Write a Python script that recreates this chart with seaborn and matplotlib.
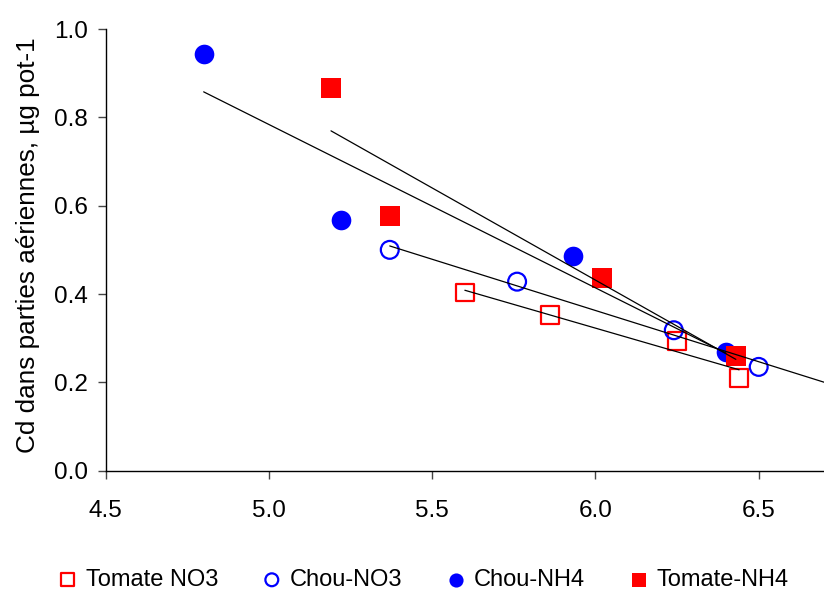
import numpy as np
import pandas as pd
import seaborn as sns
import matplotlib.pyplot as plt
from matplotlib.ticker import FormatStrFormatter

# values
series_names = ['Tomate NO3', 'Chou-NO3', 'Chou-NH4', 'Tomate-NH4']

tomate_no3_x = [5.60, 5.86, 6.25, 6.44]
tomate_no3_y = [0.403, 0.353, 0.293, 0.210]

chou_no3_x = [5.37, 5.76, 6.24, 6.50]
chou_no3_y = [0.500, 0.428, 0.318, 0.235]

chou_nh4_x = [4.80, 5.22, 5.93, 6.40]
chou_nh4_y = [0.943, 0.568, 0.487, 0.268]

tomate_nh4_x = [5.19, 5.37, 6.02, 6.43]
tomate_nh4_y = [0.866, 0.576, 0.437, 0.260]

x_ticks = [4.5, 5.0, 5.5, 6.0, 6.5]
y_ticks = [0.0, 0.2, 0.4, 0.6, 0.8, 1.0]

df = pd.DataFrame({
    'x': tomate_no3_x + chou_no3_x + chou_nh4_x + tomate_nh4_x,
    'y': tomate_no3_y + chou_no3_y + chou_nh4_y + tomate_nh4_y,
    'serie': sum([[n] * 4 for n in series_names], []),
})

sns.set_theme(style='ticks')
plt.rcParams['font.family'] = ['Liberation Sans', 'DejaVu Sans']
plt.rcParams['text.color'] = 'black'
plt.rcParams['axes.labelcolor'] = 'black'
plt.rcParams['xtick.labelcolor'] = 'black'
plt.rcParams['ytick.labelcolor'] = 'black'

fig = plt.figure(figsize=(8.24, 5.92), dpi=100)
ax = fig.add_axes([0.1283, 0.2049, 0.8717, 0.7461])

styles = {
    'Tomate NO3': dict(marker='s', facecolor='none', edgecolor='red', linewidth=1.6, s=160),
    'Chou-NO3': dict(marker='o', facecolor='none', edgecolor='blue', linewidth=1.6, s=165),
    'Chou-NH4': dict(marker='o', facecolor='blue', edgecolor='blue', linewidth=0, s=200),
    'Tomate-NH4': dict(marker='s', facecolor='red', edgecolor='red', linewidth=0, s=195),
}

xmin, xmax = 4.5, 6.7

# trend lines (linear fit per series)
for name in series_names:
    sub = df[df['serie'] == name]
    a, b = np.polyfit(sub['x'], sub['y'], 1)
    x_end = xmax if name == 'Chou-NO3' else sub['x'].max()
    xs = np.array([sub['x'].min(), x_end])
    ax.plot(xs, a * xs + b, color='black', lw=0.9, zorder=3)

for name in series_names:
    sub = df[df['serie'] == name]
    sns.scatterplot(data=sub, x='x', y='y', ax=ax, label=name, zorder=2, **styles[name])

ax.set_xlim(xmin, xmax)
ax.set_ylim(0, 1.0)
ax.set_xticks(x_ticks)
ax.set_yticks(y_ticks)
ax.xaxis.set_major_formatter(FormatStrFormatter('%.1f'))
ax.yaxis.set_major_formatter(FormatStrFormatter('%.1f'))
ax.tick_params(labelsize=17.5, length=6, width=1, color='#444444', labelcolor='black')
ax.tick_params(axis='x', pad=15)
ax.tick_params(axis='y', pad=7)
ax.set_xlabel('')
ax.set_ylabel('Cd dans parties aériennes, µg pot-1', fontsize=18.8, color='black')
ax.yaxis.set_label_coords(-0.092, 0.51)
sns.despine(ax=ax)
for sp in ['left', 'bottom']:
    ax.spines[sp].set_color('black')
    ax.spines[sp].set_linewidth(1)

handles, labels = ax.get_legend_handles_labels()
ax.get_legend().remove()
fig.legend(handles, labels, loc='center', bbox_to_anchor=(0.5127, 0.0203), ncol=4,
           frameon=False, fontsize=17, markerscale=0.72, handletextpad=0.26,
           columnspacing=1.78, handlelength=1.0, labelcolor='black')

fig.savefig('out.png', dpi=100)
